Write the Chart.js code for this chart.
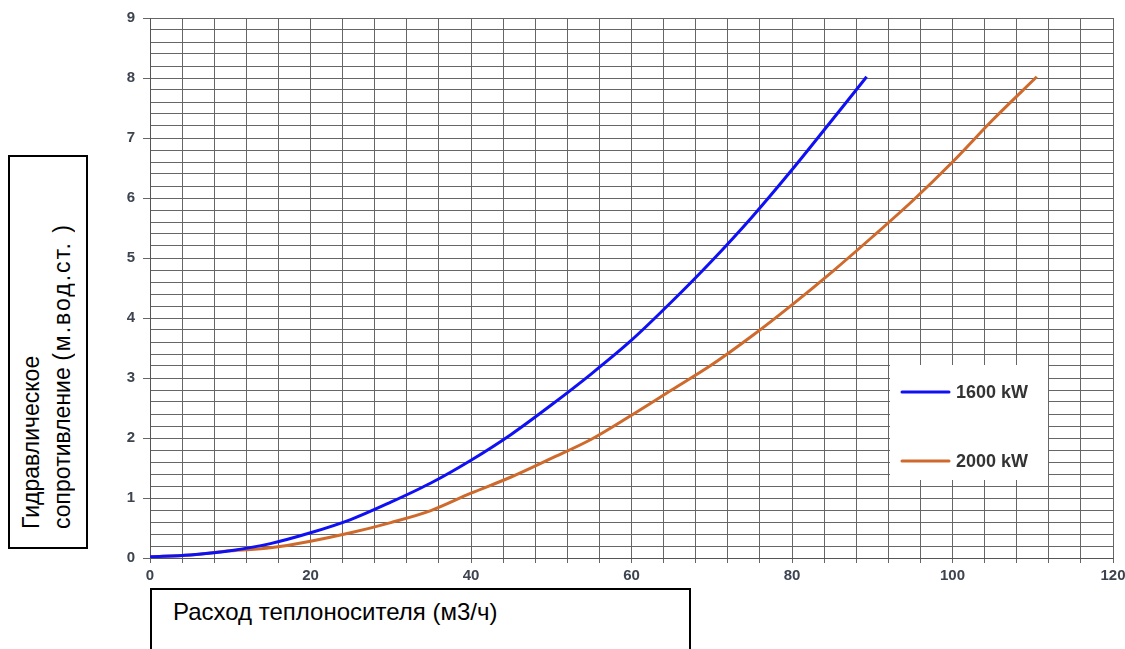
<!DOCTYPE html>
<html>
<head>
<meta charset="utf-8">
<script src="https://cdn.jsdelivr.net/npm/chart.js@4.4.1/dist/chart.umd.min.js"></script>
<style>
    body { margin: 0; background: #fff; }
    #wrap { position: relative; width: 1125px; height: 649px; overflow: hidden; }
    #report { position: absolute; left: 0; top: 0; }
    .box { position: absolute; border: 2px solid #000; background: #fff; box-sizing: border-box;
           font-family: "Liberation Sans", Arial, sans-serif; color: #000; }
    #yTitle { left: 8px; top: 155px; width: 80px; height: 394px; }
    #yTitle div { position: absolute; left: 6px; bottom: 18px; writing-mode: vertical-rl; transform: rotate(180deg);
                  white-space: nowrap; font-size: 23px; line-height: 31px; }
    #yTitle span { letter-spacing: 2px; }
    #xTitle { left: 150px; top: 588px; width: 541px; height: 80px; font-size: 24px; padding: 8px 0 0 21px; }
</style>
</head>
<body>
<div id="wrap">
    <canvas id="report" width="1125" height="649"></canvas>
    <div class="box" id="yTitle"><div>Гидравлическое<br>сопротивление <span>(м.вод.ст. )</span></div></div>
    <div class="box" id="xTitle">Расход теплоносителя (м3/ч)</div>
</div>
<script>
// расход, м3/ч
const flow1600 = [0, 5, 10, 15, 20, 25, 30, 35, 40, 45, 50, 55, 60, 65, 70, 75, 80, 85, 89.3];
const loss1600 = [0.02, 0.05, 0.12, 0.24, 0.42, 0.64, 0.93, 1.25, 1.63, 2.06, 2.55, 3.07, 3.63, 4.27, 4.95, 5.68, 6.47, 7.30, 8.02];
const flow2000 = [0, 5, 10, 15, 20, 25, 30, 35, 40, 45, 50, 55, 60, 65, 70, 75, 80, 85, 90, 95, 100, 105, 110.5];
const loss2000 = [0.02, 0.05, 0.12, 0.17, 0.28, 0.42, 0.59, 0.79, 1.08, 1.35, 1.66, 1.98, 2.38, 2.80, 3.22, 3.70, 4.22, 4.77, 5.35, 5.95, 6.60, 7.30, 8.02];
const seriesNames = ['1600 kW', '2000 kW'];
const seriesColors = ['#1010f5', '#cf6a2c'];
const xTicks = [0, 20, 40, 60, 80, 100, 120];
const yTicks = [0, 1, 2, 3, 4, 5, 6, 7, 8, 9];

function toPoints(xs, ys) {
    return xs.map((x, i) => ({ x: x, y: ys[i] }));
}

const legendBox = {
    id: 'legendBox',
    afterDatasetsDraw(chart) {
        const c = chart.ctx;
        c.save();
        c.fillStyle = '#fff';
        c.fillRect(890, 365, 158, 115);
        const rows = [392, 461];
        chart.data.datasets.forEach((ds, i) => {
            c.strokeStyle = ds.borderColor;
            c.lineWidth = 3;
            c.lineCap = 'round';
            c.beginPath();
            c.moveTo(902, rows[i]);
            c.lineTo(949, rows[i]);
            c.stroke();
            c.fillStyle = '#333';
            c.font = 'bold 18px "Liberation Sans", Arial, sans-serif';
            c.textBaseline = 'middle';
            c.fillText(ds.label, 956, rows[i] + 1);
        });
        c.restore();
    }
};

const tickFont = { family: '"Liberation Sans", Arial, sans-serif', size: 15, weight: 'bold' };

const ctx = document.getElementById('report').getContext('2d');
let myChart = new Chart(ctx, {
    type: 'line',
    data: {
        datasets: [{
            label: seriesNames[0],
            data: toPoints(flow1600, loss1600),
            borderColor: seriesColors[0],
            borderWidth: 3,
            pointRadius: 0,
            cubicInterpolationMode: 'monotone'
        }, {
            label: seriesNames[1],
            data: toPoints(flow2000, loss2000),
            borderColor: seriesColors[1],
            borderWidth: 3,
            pointRadius: 0,
            cubicInterpolationMode: 'monotone'
        }]
    },
    options: {
        responsive: false,
        animation: false,
        layout: { padding: { top: 18, right: 12, left: 0, bottom: 0 } },
        plugins: { legend: { display: false }, tooltip: { enabled: false } },
        scales: {
            x: {
                type: 'linear',
                min: 0,
                max: 120,
                afterFit: s => { s.height = 91; s.paddingRight = 0; s.paddingLeft = 0; },
                ticks: {
                    stepSize: 4,
                    autoSkip: false,
                    maxRotation: 0,
                    padding: 4,
                    color: '#3d4450',
                    font: tickFont,
                    callback: v => xTicks.includes(v) ? v : ''
                },
                grid: { color: '#666', tickLength: 5, tickColor: '#666' },
                border: { color: '#555' }
            },
            y: {
                min: 0,
                max: 9,
                afterFit: s => { s.width = 150; s.paddingTop = 0; s.paddingBottom = 0; },
                ticks: {
                    stepSize: 0.2,
                    autoSkip: false,
                    padding: 8,
                    color: '#3d4450',
                    font: tickFont,
                    callback: v => {
                        const r = Math.round(v * 10) / 10;
                        return yTicks.includes(r) ? r : '';
                    }
                },
                grid: {
                    color: '#666',
                    tickLength: 7,
                    tickColor: c => {
                        const r = Math.round(c.tick.value * 10) / 10;
                        return yTicks.includes(r) ? '#666' : 'rgba(0,0,0,0)';
                    }
                },
                border: { color: '#555' }
            }
        }
    },
    plugins: [legendBox]
});
</script>
</body>
</html>
